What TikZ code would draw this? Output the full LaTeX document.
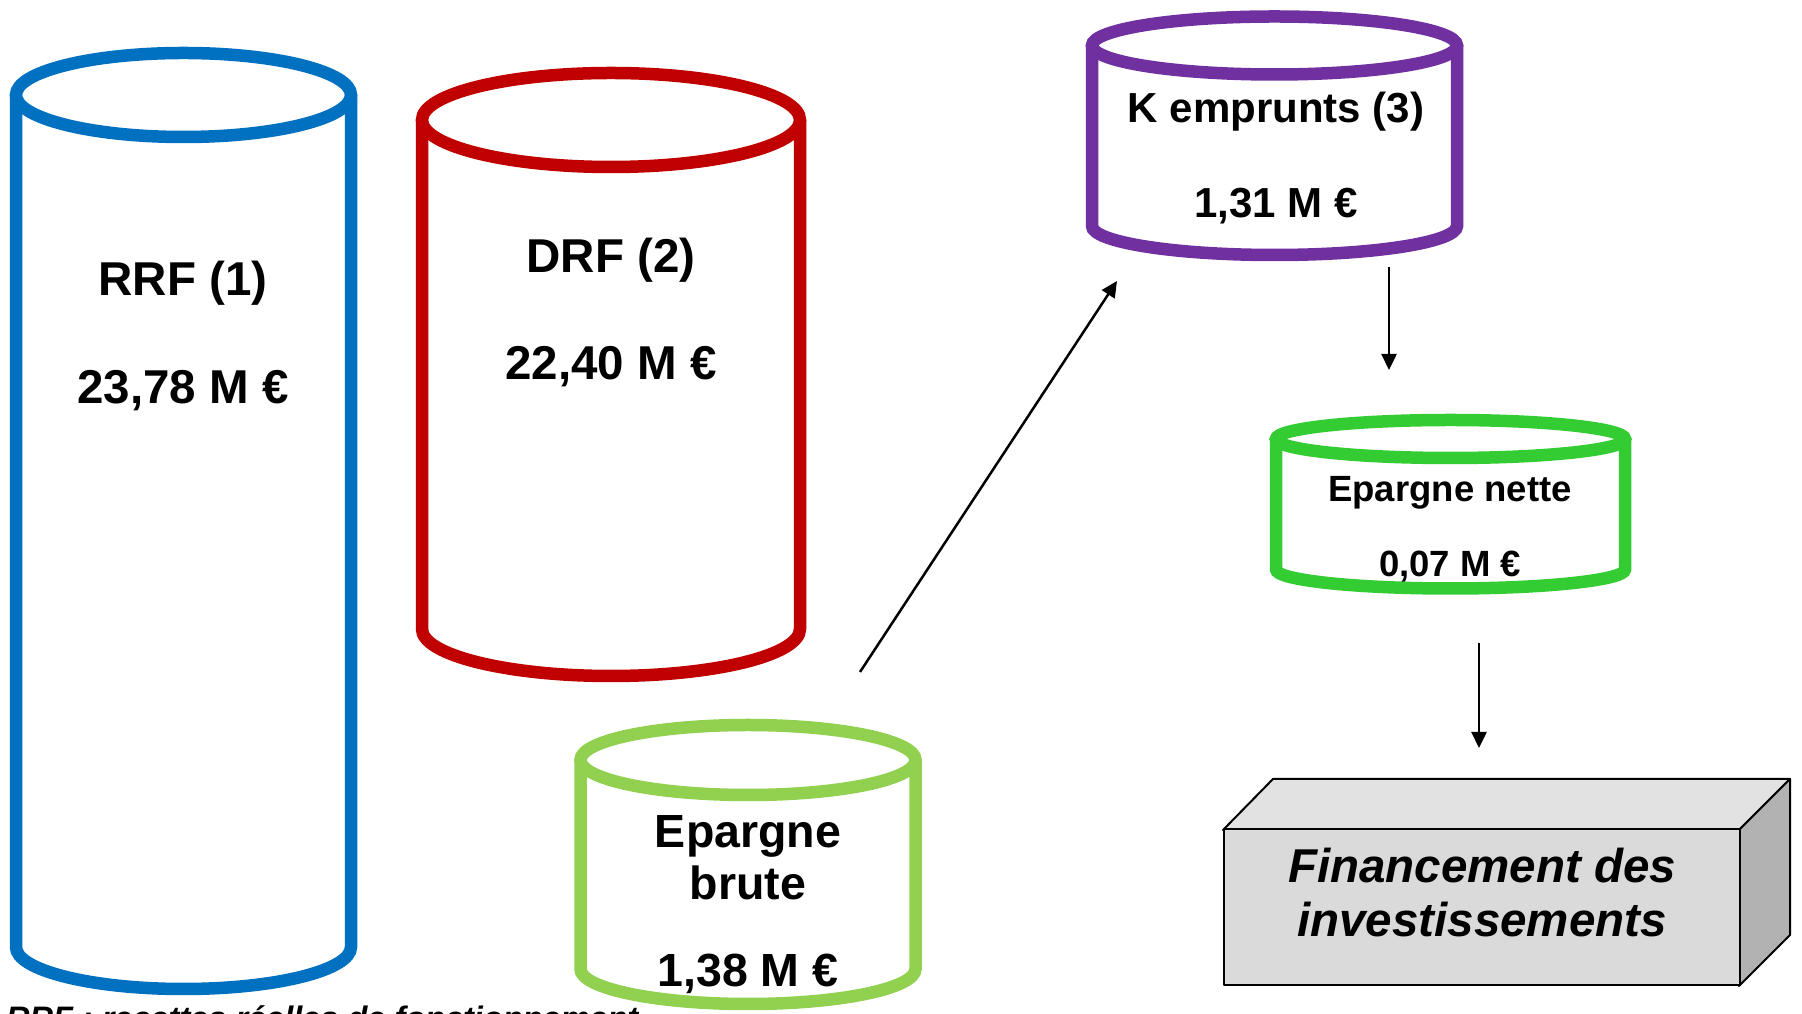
\documentclass[tikz,border=0pt]{standalone}
\usepackage{fontspec}
\setmainfont{Liberation Sans}
\usetikzlibrary{arrows.meta}
\definecolor{cblue}{HTML}{0070C0}
\definecolor{cred}{HTML}{C00000}
\definecolor{cpurple}{HTML}{7030A0}
\definecolor{clgreen}{HTML}{92D050}
\definecolor{cgreen}{HTML}{33CC33}
\definecolor{boxfront}{HTML}{DADADA}
\definecolor{boxtop}{HTML}{E2E2E2}
\definecolor{boxside}{HTML}{B2B2B2}
\newcommand\drawcyl[6]{%
  \draw[cyl, draw=#1] (#2-#3,#4) -- (#2-#3,#5)
     arc[start angle=180, end angle=360, x radius=#3, y radius=#6] -- (#2+#3,#4);
  \draw[cyl, draw=#1] (#2,#4) ellipse[x radius=#3, y radius=#6];}
\begin{document}
\begin{tikzpicture}[x=1pt,y=1pt,
  cyl/.style={line width=12.5pt, fill=white},
  lbl/.style={anchor=base, inner sep=0pt},
  fbig/.style={font=\fontsize{47.5}{56}\selectfont\bfseries},
  fmid/.style={font=\fontsize{46.5}{54}\selectfont\bfseries},
  fk/.style={font=\fontsize{42}{48}\selectfont\bfseries},
  fsm/.style={font=\fontsize{36.5}{42}\selectfont\bfseries},
  ffin/.style={font=\fontsize{47.5}{54}\selectfont\bfseries\itshape},
  fnote/.style={font=\fontsize{32.5}{36}\selectfont\bfseries\itshape},
  conn/.style={line width=2.5pt, -{Triangle[length=16pt,width=15pt]}},
  edge3d/.style={draw=black, line width=2pt, line join=round}]
\useasboundingbox (0,0) rectangle (1802,1014);
\fill[white] (0,0) rectangle (1802,1014);

% cylinders
\drawcyl{cblue}{183.5}{167.5}{919}{67}{42}
\drawcyl{cred}{611}{189}{894}{385}{47}
\drawcyl{cpurple}{1274.5}{182.5}{968.5}{788}{29}
\drawcyl{cgreen}{1450.5}{174.5}{575}{444.5}{19}
\drawcyl{clgreen}{748}{167.5}{254}{45}{35}

% labels
\node[lbl, fbig] (rrf) at (183,718) {RRF (1)};
\node[lbl, fbig] (rrfval) at (183,610) {23,78 M €};
\node[lbl, fbig] (drf) at (611,741) {DRF (2)};
\node[lbl, fbig] (drfval) at (611,634) {22,40 M €};
\node[lbl, fk] (kemp) at (1276,891) {K emprunts (3)};
\node[lbl, fk] (kempval) at (1276,796) {1,31 M €};
\node[lbl, fsm] (nette) at (1450,512) {Epargne nette};
\node[lbl, fsm] (netteval) at (1450,437) {0,07 M €};
\node[lbl, fmid] (brute1) at (748,166) {Epargne};
\node[lbl, fmid] (brute2) at (748,114) {brute};
\node[lbl, fmid] (bruteval) at (748,27) {1,38 M €};

% 3D box
\path[fill=boxtop, edge3d] (1223,184) -- (1273,235) -- (1790,235) -- (1739,184) -- cycle;
\path[fill=boxside, edge3d] (1739,184) -- (1790,235) -- (1790,79) -- (1739,28) -- cycle;
\node[fill=boxfront, edge3d, minimum width=516pt, minimum height=156pt, inner sep=0pt, anchor=south west] (fin) at (1223,28) {};
\node[lbl, ffin] (fin1) at (1482,131) {Financement des};
\node[lbl, ffin] (fin2) at (1482,77) {investissements};

% arrows
\coordinate (a1s) at (860,342);
\coordinate (a1e) at (1117,733);
\coordinate (a2s) at (1389,747);
\coordinate (a2e) at (1389,644);
\coordinate (a3s) at (1479,371);
\coordinate (a3e) at (1479,266);
\draw[conn] (a1s) -- (a1e);
\draw[conn] (a2s) -- (a2e);
\draw[conn] (a3s) -- (a3e);

% footnote (cut off at page bottom, as in the reference)
\node[anchor=base west, inner sep=0pt, fnote] (note) at (6,-16) {RRF : recettes réelles de fonctionnement};
\end{tikzpicture}
\end{document}
